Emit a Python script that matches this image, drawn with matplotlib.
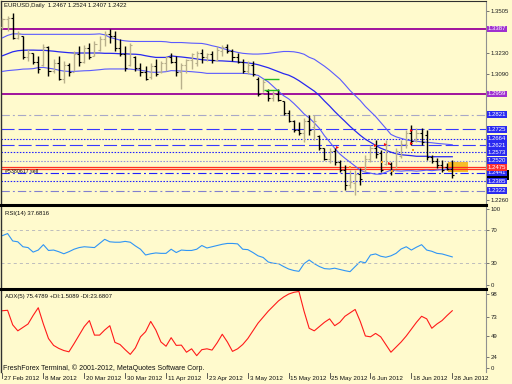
import matplotlib
matplotlib.use('Agg')
import matplotlib.pyplot as plt
import numpy as np
from matplotlib.lines import Line2D
from matplotlib.patches import Rectangle

plt.rcParams['font.family'] = ['Liberation Sans', 'DejaVu Sans']
plt.rcParams['lines.scale_dashes'] = False

# ---- daily bars EURUSD 27 Feb 2012 .. 28 Jun 2012 ----
opens = [1.3400, 1.3450, 1.3460, 1.3330, 1.3340, 1.3200, 1.3230, 1.3170, 1.3150, 1.3270,
         1.3110, 1.3160, 1.3060, 1.3150, 1.3100, 1.3220, 1.3170, 1.3260, 1.3210, 1.3250,
         1.3320, 1.3350, 1.3340, 1.3260, 1.3220, 1.3150, 1.3200, 1.3130, 1.3100, 1.3070,
         1.3140, 1.3100, 1.3160, 1.3200, 1.3170, 1.3100, 1.3150, 1.3180, 1.3160, 1.3230,
         1.3200, 1.3220, 1.3180, 1.3240, 1.3270, 1.3240, 1.3200, 1.3170, 1.3110, 1.3150,
         1.3060, 1.2960, 1.2980, 1.2930, 1.2960, 1.2910, 1.2830, 1.2780, 1.2720, 1.2700,
         1.2780, 1.2740, 1.2680, 1.2600, 1.2530, 1.2580, 1.2510, 1.2460, 1.2360, 1.2370,
         1.2430, 1.2450, 1.2530, 1.2600, 1.2570, 1.2500, 1.2500, 1.2460, 1.2550, 1.2630,
         1.2700, 1.2660, 1.2700, 1.2690, 1.2540, 1.2520, 1.2490, 1.2480, 1.2467]
highs = [1.3459, 1.3472, 1.3492, 1.3374, 1.3341, 1.3256, 1.3230, 1.3210, 1.3289, 1.3276,
         1.3191, 1.3210, 1.3178, 1.3164, 1.3243, 1.3276, 1.3282, 1.3295, 1.3308, 1.3341,
         1.3374, 1.3387, 1.3374, 1.3322, 1.3276, 1.3295, 1.3210, 1.3164, 1.3145, 1.3164,
         1.3191, 1.3178, 1.3210, 1.3230, 1.3210, 1.3164, 1.3191, 1.3230, 1.3243, 1.3256,
         1.3230, 1.3243, 1.3276, 1.3282, 1.3289, 1.3256, 1.3230, 1.3191, 1.3178, 1.3178,
         1.3073, 1.3060, 1.2994, 1.2981, 1.2994, 1.2915, 1.2850, 1.2784, 1.2772, 1.2798,
         1.2817, 1.2817, 1.2686, 1.2601, 1.2601, 1.2601, 1.2522, 1.2490, 1.2457, 1.2457,
         1.2470, 1.2555, 1.2621, 1.2653, 1.2588, 1.2653, 1.2509, 1.2601, 1.2653, 1.2719,
         1.2752, 1.2732, 1.2732, 1.2719, 1.2555, 1.2536, 1.2522, 1.2503, 1.2524]
lows = [1.3387, 1.3374, 1.3322, 1.3322, 1.3191, 1.3178, 1.3158, 1.3099, 1.3145, 1.3079,
        1.3099, 1.3047, 1.3033, 1.3079, 1.3112, 1.3145, 1.3164, 1.3191, 1.3210, 1.3243,
        1.3276, 1.3295, 1.3243, 1.3210, 1.3112, 1.3145, 1.3112, 1.3079, 1.3047, 1.3060,
        1.3079, 1.3099, 1.3112, 1.3164, 1.3079, 1.2994, 1.3099, 1.3125, 1.3145, 1.3164,
        1.3178, 1.3164, 1.3178, 1.3210, 1.3230, 1.3178, 1.3164, 1.3099, 1.3092, 1.3079,
        1.2948, 1.2968, 1.2915, 1.2915, 1.2915, 1.2817, 1.2772, 1.2706, 1.2686, 1.2640,
        1.2686, 1.2653, 1.2588, 1.2522, 1.2503, 1.2490, 1.2444, 1.2326, 1.2339, 1.2293,
        1.2359, 1.2444, 1.2509, 1.2536, 1.2444, 1.2490, 1.2424, 1.2470, 1.2536, 1.2601,
        1.2621, 1.2640, 1.2621, 1.2522, 1.2503, 1.2470, 1.2444, 1.2457, 1.2407]
closes = [1.3450, 1.3460, 1.3330, 1.3360, 1.3200, 1.3230, 1.3170, 1.3120, 1.3270, 1.3110,
          1.3160, 1.3060, 1.3150, 1.3100, 1.3220, 1.3170, 1.3260, 1.3200, 1.3290, 1.3320,
          1.3350, 1.3340, 1.3260, 1.3220, 1.3130, 1.3280, 1.3130, 1.3100, 1.3060, 1.3140,
          1.3090, 1.3160, 1.3200, 1.3170, 1.3100, 1.3150, 1.3180, 1.3220, 1.3230, 1.3200,
          1.3220, 1.3180, 1.3250, 1.3270, 1.3240, 1.3200, 1.3170, 1.3110, 1.3150, 1.3090,
          1.2960, 1.3040, 1.2930, 1.2960, 1.2920, 1.2830, 1.2780, 1.2720, 1.2700, 1.2780,
          1.2720, 1.2780, 1.2600, 1.2530, 1.2580, 1.2510, 1.2460, 1.2360, 1.2380, 1.2430,
          1.2400, 1.2530, 1.2600, 1.2560, 1.2460, 1.2620, 1.2450, 1.2580, 1.2630, 1.2700,
          1.2650, 1.2700, 1.2640, 1.2540, 1.2520, 1.2490, 1.2460, 1.2467, 1.2422]

# Bollinger bands (upper / middle / lower)
band_upper = [1.3328, 1.3344, 1.3354, 1.3354, 1.3351, 1.3351, 1.3351, 1.3351, 1.3351, 1.3351,
              1.3351, 1.3351, 1.3351, 1.3351, 1.3351, 1.3351, 1.3351, 1.3351, 1.3352, 1.3354,
              1.3348, 1.3331, 1.3322, 1.3313, 1.3308, 1.3305, 1.3304, 1.3304, 1.3304, 1.3304,
              1.3304, 1.3304, 1.3302, 1.3297, 1.3297, 1.3297, 1.3295, 1.3293, 1.3292, 1.3291,
              1.3285, 1.3276, 1.3269, 1.3259, 1.3249, 1.3240, 1.3232, 1.3226, 1.3223, 1.3221,
              1.3221, 1.3223, 1.3225, 1.3230, 1.3234, 1.3238, 1.3238, 1.3236, 1.3230, 1.3220,
              1.3200, 1.3187, 1.3164, 1.3141, 1.3115, 1.3086, 1.3057, 1.3020, 1.2981, 1.2948,
              1.2915, 1.2876, 1.2843, 1.2810, 1.2771, 1.2732, 1.2692, 1.2676, 1.2666, 1.2656,
              1.2650, 1.2647, 1.2643, 1.2640, 1.2637, 1.2633, 1.2630, 1.2627, 1.2624]
band_middle = [1.3210, 1.3223, 1.3236, 1.3243, 1.3246, 1.3247, 1.3247, 1.3246, 1.3246, 1.3243,
               1.3240, 1.3236, 1.3233, 1.3230, 1.3228, 1.3228, 1.3228, 1.3228, 1.3228, 1.3228,
               1.3226, 1.3226, 1.3225, 1.3223, 1.3223, 1.3221, 1.3220, 1.3217, 1.3210, 1.3204,
               1.3199, 1.3199, 1.3199, 1.3209, 1.3205, 1.3202, 1.3198, 1.3194, 1.3189, 1.3184,
               1.3181, 1.3179, 1.3177, 1.3176, 1.3174, 1.3172, 1.3169, 1.3166, 1.3163, 1.3158,
               1.3151, 1.3141, 1.3131, 1.3118, 1.3105, 1.3092, 1.3082, 1.3066, 1.3046, 1.3023,
               1.3000, 1.2977, 1.2948, 1.2912, 1.2879, 1.2843, 1.2810, 1.2778, 1.2745, 1.2715,
               1.2686, 1.2660, 1.2640, 1.2620, 1.2601, 1.2588, 1.2575, 1.2565, 1.2558, 1.2555,
               1.2552, 1.2548, 1.2548, 1.2548, 1.2545, 1.2545, 1.2545, 1.2545, 1.2545]
band_lower = [1.3107, 1.3112, 1.3115, 1.3118, 1.3122, 1.3123, 1.3125, 1.3132, 1.3133, 1.3128,
              1.3123, 1.3115, 1.3109, 1.3107, 1.3107, 1.3109, 1.3111, 1.3112, 1.3115, 1.3118,
              1.3122, 1.3123, 1.3123, 1.3123, 1.3123, 1.3122, 1.3118, 1.3115, 1.3109, 1.3102,
              1.3101, 1.3102, 1.3105, 1.3112, 1.3111, 1.3109, 1.3107, 1.3105, 1.3102, 1.3099,
              1.3094, 1.3094, 1.3094, 1.3094, 1.3094, 1.3094, 1.3094, 1.3094, 1.3092, 1.3086,
              1.3081, 1.3059, 1.3038, 1.3007, 1.2976, 1.2947, 1.2926, 1.2896, 1.2863, 1.2827,
              1.2801, 1.2768, 1.2732, 1.2683, 1.2643, 1.2601, 1.2563, 1.2535, 1.2509, 1.2483,
              1.2457, 1.2443, 1.2437, 1.2430, 1.2430, 1.2443, 1.2457, 1.2453, 1.2450, 1.2453,
              1.2453, 1.2450, 1.2453, 1.2457, 1.2453, 1.2457, 1.2460, 1.2463, 1.2466]

rsi = [63.5, 66, 57, 56, 50, 49, 43.5, 46, 52.5, 45.5,
       46, 44, 41.5, 44, 47, 49, 50, 49.5, 49, 54,
       59, 56, 55.5, 55.5, 56.5, 55.5, 51, 47, 40, 41.5,
       42.5, 42, 42, 47, 43, 46, 45.5, 45.5, 47, 51.5,
       48.5, 50, 51.5, 53, 54, 54, 53.5, 47, 46.5, 43,
       39, 37, 31.5, 30, 29.5, 26, 23, 21.2, 20.2, 29.5,
       34, 29.5, 26, 23.5, 23, 24, 22.5, 21, 19.8, 26,
       32, 30.5, 40, 41.3, 38.5, 37.3, 39, 42, 47.3, 50,
       46, 49.5, 52.5, 46, 44.5, 42, 41.3, 39.5, 37.7]
adx = [75.5, 76, 59, 52, 56, 60, 70, 79, 60, 43,
       35, 31.5, 29, 27.5, 37, 47, 57, 64, 47, 47,
       53, 58, 38.5, 36, 30, 24.5, 32, 45, 51, 63,
       53, 39, 34, 44, 35, 35.3, 27, 31, 23, 30,
       31, 29.5, 38, 48, 39, 28, 31, 36, 43, 52,
       61, 68, 75, 81, 87, 91.5, 95, 97, 98, 75,
       55, 52, 57, 62, 66, 58, 62, 69, 73, 77,
       63, 46, 45, 49, 45, 36, 27, 33, 39, 46,
       54, 62, 69, 66, 55, 60, 64, 70, 75.5]

date_labels = ['27 Feb 2012', '8 Mar 2012', '20 Mar 2012', '30 Mar 2012', '11 Apr 2012',
               '23 Apr 2012', '3 May 2012', '15 May 2012', '25 May 2012', '6 Jun 2012',
               '18 Jun 2012', '28 Jun 2012']
date_bars = [0, 8, 16, 24, 32, 40, 48, 56, 64, 72, 80, 88]

price_ticks = [1.3505, 1.3230, 1.3090, 1.2260]
level_prices = [1.3387, 1.2959, 1.2821, 1.2725, 1.2664, 1.2621, 1.2573, 1.2520, 1.2441, 1.2385, 1.2322]
order_prices = [1.2478, 1.2464]
order_label = 1.2475
bid = 1.2422

sell_arrow_x = [65.4, 72.8, 74.9, 75.7, 79.9, 79.9]
sell_arrow_p = [1.2610, 1.2625, 1.2632, 1.2505, 1.2723, 1.2636]
close_dot_x = [68.0, 74.2, 76.2, 80.4]
close_dot_p = [1.2478, 1.2512, 1.2450, 1.2588]
green_x = [51.2, 54.1]
green_p = [1.3059, 1.2987]
zone_x = [87.2, 91.1]
zone_p = [1.2443, 1.2509]

# ---------------------------------------------------------------------------
W, H = 512, 384
BG = '#FFFACD'
fig = plt.figure(figsize=(5.12, 3.84), dpi=100, facecolor=BG)


def rect(x0, y0, x1, y1):
    return [x0 / W, 1 - y1 / H, (x1 - x0) / W, (y1 - y0) / H]


ax = fig.add_axes(rect(1, 1, 486, 204))
rsi_ax = fig.add_axes(rect(1, 205.5, 486, 288), sharex=ax)
adx_ax = fig.add_axes(rect(1, 289.5, 486, 372), sharex=ax)

n = len(closes)
idx = np.arange(n)
for a in (ax, rsi_ax, adx_ax):
    a.set_facecolor(BG)
    a.set_xlim(-0.29, 94.6)
    for s in ('top', 'bottom'):
        a.spines[s].set_visible(False)
    a.spines['left'].set_color('#303030')
    a.spines['left'].set_linewidth(1.0)
    a.spines['right'].set_color('#909090')
    a.spines['right'].set_linewidth(0.8)
    a.yaxis.tick_right()
    a.tick_params(axis='y', length=2, width=0.6, color='#606060', pad=1.5,
                  labelsize=4.3, labelcolor='#202020')
    a.tick_params(axis='x', bottom=False, labelbottom=False)
ax.spines['top'].set_visible(True)
ax.spines['top'].set_color('#303030')

# ---- price panel ----
ax.set_ylim(1.22337, 1.35705)
ax.set_yticks(price_ticks)
ax.set_yticklabels(['%.4f' % p for p in price_ticks])

ytr = ax.get_yaxis_transform()
level_style = [('#99009A', 1.3, None), ('#99009A', 1.3, None),
               ('#A8A8C8', 0.8, (6, 2.2, 1.4, 2.2)),
               ('#3838FF', 0.8, (9.4, 2.9)), ('#2020FF', 0.8, (1.1, 1.1)),
               ('#3838FF', 0.8, (9.4, 2.9)), ('#2020FF', 0.8, (1.1, 1.1)),
               ('#9090D8', 0.8, (1.1, 1.1)), ('#2020FF', 0.8, (6, 2.2, 1.4, 2.2)),
               ('#2020FF', 0.8, (1.1, 1.1)), ('#8080D0', 0.8, (6, 2.2, 1.4, 2.2))]
for p, (c, lw, d) in zip(level_prices, level_style):
    ln = ax.axhline(p, color=c, lw=lw, zorder=2)
    if d:
        ln.set_dashes(d)
for p in order_prices:
    ax.axhline(p, color='#FF3020', lw=0.9, zorder=2)

ax.add_patch(Rectangle((zone_x[0], zone_p[0]), zone_x[1] - zone_x[0], zone_p[1] - zone_p[0],
                       fc='#F6BE2A', ec='none', zorder=1))

ax.plot(idx, band_upper, color='#5A5AFF', lw=0.8, zorder=3)
ax.plot(idx, band_middle, color='#2828F0', lw=0.9, zorder=3)
ax.plot(idx, band_lower, color='#5A5AFF', lw=0.8, zorder=3)

o = np.array(opens); c = np.array(closes)
bar_col = np.where(c <= o, '#000000', '#B8B08C')
ax.vlines(idx, lows, highs, colors=bar_col, lw=1.0, zorder=4)
ax.hlines(opens, idx - 0.4, idx, colors=bar_col, lw=0.8, zorder=4)
ax.hlines(closes, idx, idx + 0.4, colors=bar_col, lw=0.8, zorder=4)

ax.hlines(green_p, green_x[0], green_x[1], colors='#22BB22', lw=1.0, zorder=5)
ax.scatter(sell_arrow_x, sell_arrow_p, marker='>', s=5, color='#FF1010', lw=0, zorder=6)
ax.scatter(close_dot_x, close_dot_p, marker='s', s=3, color='#F0A020', lw=0, zorder=6)

ax.text(0.006, 0.976, 'EURUSD,Daily  1.2467 1.2524 1.2407 1.2422', transform=ax.transAxes,
        fontsize=4.3, va='center', ha='left', color='#101010')
ax.text(0.008, 1.2450, '#5380617 sell', transform=ytr, fontsize=3.8, va='center',
        ha='left', color='#101010', zorder=7)

# axis labels for the levels (boxes): blue ones top-down, the red order label on top
label_col = ['#A030D0', '#A030D0'] + ['#2A2AF0'] * 9
ax.add_patch(Rectangle((1.002, bid - 0.0033), 0.046, 0.0066, transform=ytr, fc='#000000',
                       ec='none', clip_on=False, zorder=9))
z = 10
for p, col in sorted(zip(level_prices, label_col), key=lambda t: -t[0]):
    ax.text(1.004, p, '%.4f' % p, transform=ytr, fontsize=4.3, va='center', ha='left',
            color='white', clip_on=False, zorder=z,
            bbox=dict(boxstyle='square,pad=0.14', fc=col, ec='none'))
    z += 1
ax.text(1.004, order_label, '%.4f' % order_label, transform=ytr, fontsize=4.3, va='center',
        ha='left', color='white', clip_on=False, zorder=z,
        bbox=dict(boxstyle='square,pad=0.14', fc='#FF3030', ec='none'))

# ---- RSI panel ----
rsi_ax.set_ylim(0, 100)
rsi_ax.plot(idx, rsi, color='#2F95F5', lw=0.8)
for lv in (70, 30):
    l = rsi_ax.axhline(lv, color='#BDBDBD', lw=0.7)
    l.set_dashes((2.2, 2.2))
rsi_ax.set_yticks([96, 70, 30, 4])
rsi_ax.set_yticklabels(['100', '70', '30', '0'])
rsi_ax.text(0.008, 0.9, 'RSI(14) 37.6816', transform=rsi_ax.transAxes, fontsize=4.3,
            va='center', ha='left', color='#101010')

# ---- ADX panel ----
adx_ax.set_ylim(3.9, 100.3)
adx_ax.plot(idx, adx, color='#FF1A1A', lw=0.8)
adx_ax.set_yticks([94.5, 68.2, 45.8, 21.7, 8.6])
adx_ax.set_yticklabels(['98', '73', '49', '24', '0'])
adx_ax.text(0.008, 0.92, 'ADX(5) 75.4789 +DI:1.5089 -DI:23.6807', transform=adx_ax.transAxes,
            fontsize=4.3, va='center', ha='left', color='#101010')
adx_ax.text(0.004, 0.05, 'FreshForex Terminal, \u00a9 2001-2012, MetaQuotes Software Corp.',
            transform=adx_ax.transAxes, fontsize=5.0, va='center', ha='left', color='#101010')

# date scale
xtr = adx_ax.get_xaxis_transform()
for b, lab in zip(date_bars, date_labels):
    adx_ax.plot([b, b], [-0.01, -0.07], transform=xtr, color='#404040', lw=0.6, clip_on=False)
    adx_ax.text(b + 0.35, -0.075, lab, transform=xtr, fontsize=4.5, va='center', ha='left',
                color='#101010')

# window separators
for y in (204.6, 288.8):
    fig.add_artist(Line2D([0, 486 / W], [1 - y / H] * 2, color='black', lw=2.2))

fig.savefig('out.png', dpi=100, facecolor=BG)
